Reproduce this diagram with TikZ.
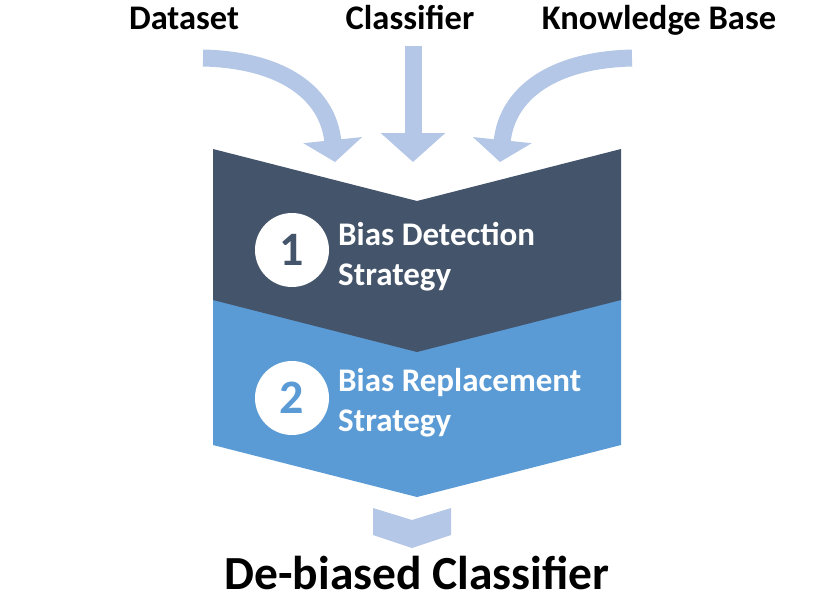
\documentclass[tikz,border=0pt]{standalone}
\usepackage{fontspec}
\setmainfont{Carlito}
\usetikzlibrary{arrows.meta}
\definecolor{slate-dark}{HTML}{44546A}
\definecolor{step-blue}{HTML}{5B9BD5}
\definecolor{arrow-light}{HTML}{B4C7E7}

\begin{document}
\begin{tikzpicture}[x=1pt, y=-1pt,
      every node/.style={font=\bfseries},
      inlabel/.style={anchor=base, inner sep=0pt,
        font=\fontsize{34.5}{34.5}\selectfont\bfseries},
      inarrow/.style={draw=arrow-light, line width=17pt,
        -{Triangle[length=22pt, width=58pt, fill=arrow-light]}},
      numdisc/.style={circle, fill=white, minimum size=74pt, inner sep=0pt,
        font=\fontsize{48}{48}\selectfont\bfseries},
      steptext/.style={anchor=west, align=left, text=white, inner sep=0pt,
        font=\fontsize{33}{40}\selectfont\bfseries}]
    \useasboundingbox (0,0) rectangle (831,598);
    % inputs
    \node[inlabel] (dataset) at (184,29) {Dataset};
    \node[inlabel] (classifier) at (410,29) {Classifier};
    \node[inlabel] (kbase) at (659,29) {Knowledge Base};
    \coordinate (dataTail) at (203,58);
    \coordinate (dataTip) at (335,162);
    \coordinate (clsTail) at (413,46);
    \coordinate (clsTip) at (413,162);
    \coordinate (kbTail) at (632,58);
    \coordinate (kbTip) at (500,162);
    % the two stages
    \fill[step-blue] (213,290) -- (621,290) -- (621,445) -- (417,497)
          -- (213,445) -- cycle;
    \fill[slate-dark] (213,149) -- (417,201) -- (621,149) -- (621,300)
          -- (417,352) -- (213,300) -- cycle;
    \fill[arrow-light] (373,508) -- (412,520) -- (451,508) -- (451,535)
          -- (412,548) -- (373,535) -- cycle;
    \draw[inarrow] (dataTail) .. controls (285,60) and (328,95) .. (dataTip);
    \draw[inarrow, -{Triangle[length=29pt, width=63pt, fill=arrow-light]}]
          (clsTail) -- (clsTip);
    \draw[inarrow] (kbTail) .. controls (550,60) and (507,95) .. (kbTip);
    \node[numdisc, text=slate-dark] (one) at (292,250) {1};
    \node[steptext] (detect) at (338,257) {Bias Detection\\Strategy};
    \node[numdisc, text=step-blue] (two) at (292,398) {2};
    \node[steptext] (replace) at (338,403) {Bias Replacement\\Strategy};
    % output
    \node[anchor=base, inner sep=0pt, font=\fontsize{47.5}{47.5}\selectfont\bfseries]
          (debiased) at (417,589) {De-biased Classifier};
  \end{tikzpicture}
\end{document}
